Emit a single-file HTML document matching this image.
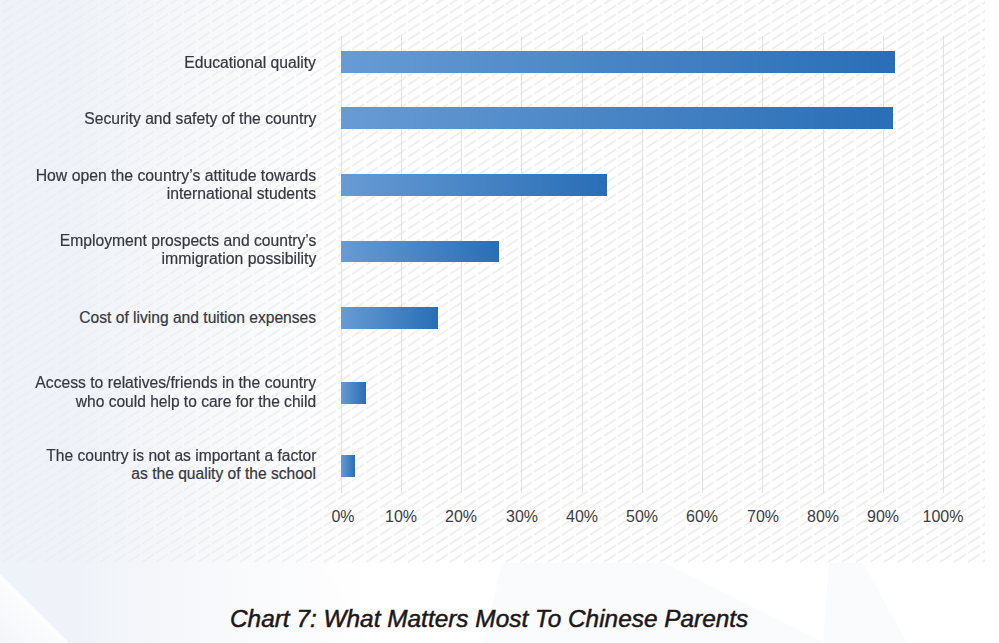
<!DOCTYPE html>
<html><head><meta charset="utf-8">
<style>
html,body{margin:0;padding:0}
body{width:999px;height:643px;position:relative;overflow:hidden;background:#fff;font-family:"Liberation Sans",Arial,sans-serif}
.abs{position:absolute}
#bg{left:0;top:0;width:999px;height:643px;background:linear-gradient(90deg,#eef2f9 0px,#eff3f9 80px,#f4f6fa 150px,#f9fafc 240px,#fdfdfe 330px,#fff 420px)}
#stripes{left:0;top:0}
.grid{position:absolute;top:36px;width:1px;height:457px;background:#e0e1e2}
.bar{position:absolute;left:341px;height:22px;background:linear-gradient(90deg,#679bd4,#296eb6)}
.lbl{position:absolute;right:683px;text-align:right;white-space:nowrap;font-size:15.6px;line-height:18px;color:#363840;-webkit-text-stroke:0.2px #363840}
.lbl span{display:block;transform-origin:100% 50%}
.ax{position:absolute;top:508px;width:60px;margin-left:-30px;text-align:center;font-size:16px;line-height:18px;color:#3b3d44}
#title{position:absolute;left:230px;top:604.5px;font-style:italic;font-size:24.4px;line-height:28px;color:#1c1818;-webkit-text-stroke:0.5px #1c1818;white-space:nowrap}
</style></head><body>
<div id="bg" class="abs"></div>
<svg id="stripes" class="abs" width="999" height="643">
<defs>
<pattern id="p" x="1" y="4.6" width="14" height="9" patternUnits="userSpaceOnUse">
<line x1="1" y1="8.4" x2="13" y2="0.7" stroke="#ebebeb" stroke-width="1.5"/>
</pattern>
<linearGradient id="tri" x1="0" y1="1" x2="0.5" y2="0.5">
<stop offset="0" stop-color="#f3f5f9"/>
<stop offset="1" stop-color="#fdfdfe"/>
</linearGradient>
</defs>
<polygon points="0,574 69,643 0,643" fill="url(#tri)"/>
<polygon points="322,563 502,563 483,643 368,643" fill="#ffffff" fill-opacity="0.5"/>
<polygon points="502,563 665,563 825,643 483,643" fill="#fafbfd"/>
<polygon points="829,563 863,563 907,643 823,643" fill="#fafbfd"/>
<filter id="bl" x="0" y="0" width="1" height="1"><feGaussianBlur stdDeviation="0.35"/></filter>
<linearGradient id="mg" x1="0" y1="0" x2="1" y2="0" gradientUnits="objectBoundingBox">
<stop offset="0" stop-color="#fff" stop-opacity="0.6"/>
<stop offset="0.35" stop-color="#fff" stop-opacity="1"/>
</linearGradient>
<mask id="mk" maskUnits="userSpaceOnUse" x="0" y="0" width="999" height="643"><rect x="0" y="0" width="985" height="563" fill="url(#mg)"/></mask>
<g mask="url(#mk)"><rect x="0" y="0" width="985" height="563" fill="url(#p)" filter="url(#bl)"/></g>
</svg>

<div class="grid" style="left:341px"></div>
<div class="grid" style="left:401px"></div>
<div class="grid" style="left:461px"></div>
<div class="grid" style="left:521px"></div>
<div class="grid" style="left:582px"></div>
<div class="grid" style="left:642px"></div>
<div class="grid" style="left:702px"></div>
<div class="grid" style="left:762px"></div>
<div class="grid" style="left:823px"></div>
<div class="grid" style="left:883px"></div>
<div class="grid" style="left:943px"></div>

<div class="bar" style="top:51px;width:554px"></div>
<div class="bar" style="top:107px;width:552px"></div>
<div class="bar" style="top:174px;width:266px"></div>
<div class="bar" style="top:241px;width:158px;height:21px"></div>
<div class="bar" style="top:307px;width:97px"></div>
<div class="bar" style="top:382px;width:25px"></div>
<div class="bar" style="top:455px;width:14px"></div>

<div class="lbl" style="top:54px"><span style="transform:scaleX(1.006)">Educational quality</span></div>
<div class="lbl" style="top:110px"><span style="transform:scaleX(1.003)">Security and safety of the country</span></div>
<div class="lbl" style="top:167px"><span style="transform:scaleX(1.012)">How open the country’s attitude towards</span><span style="transform:scaleX(1.008)">international students</span></div>
<div class="lbl" style="top:232px"><span style="transform:scaleX(1.005)">Employment prospects and country’s</span><span style="transform:scaleX(1.015)">immigration possibility</span></div>
<div class="lbl" style="top:309px"><span style="transform:scaleX(1.0)">Cost of living and tuition expenses</span></div>
<div class="lbl" style="top:374px"><span style="transform:scaleX(1.006)">Access to relatives/friends in the country</span><span style="transform:scaleX(0.997);margin-top:1px">who could help to care for the child</span></div>
<div class="lbl" style="top:447px"><span style="transform:scaleX(0.999)">The country is not as important a factor</span><span style="transform:scaleX(1.0)">as the quality of the school</span></div>

<div class="ax" style="left:343px">0%</div>
<div class="ax" style="left:401px">10%</div>
<div class="ax" style="left:461px">20%</div>
<div class="ax" style="left:522px">30%</div>
<div class="ax" style="left:582px">40%</div>
<div class="ax" style="left:642px">50%</div>
<div class="ax" style="left:702px">60%</div>
<div class="ax" style="left:763px">70%</div>
<div class="ax" style="left:823px">80%</div>
<div class="ax" style="left:883px">90%</div>
<div class="ax" style="left:943px">100%</div>

<div id="title">Chart 7: What Matters Most To Chinese Parents</div>
</body></html>
